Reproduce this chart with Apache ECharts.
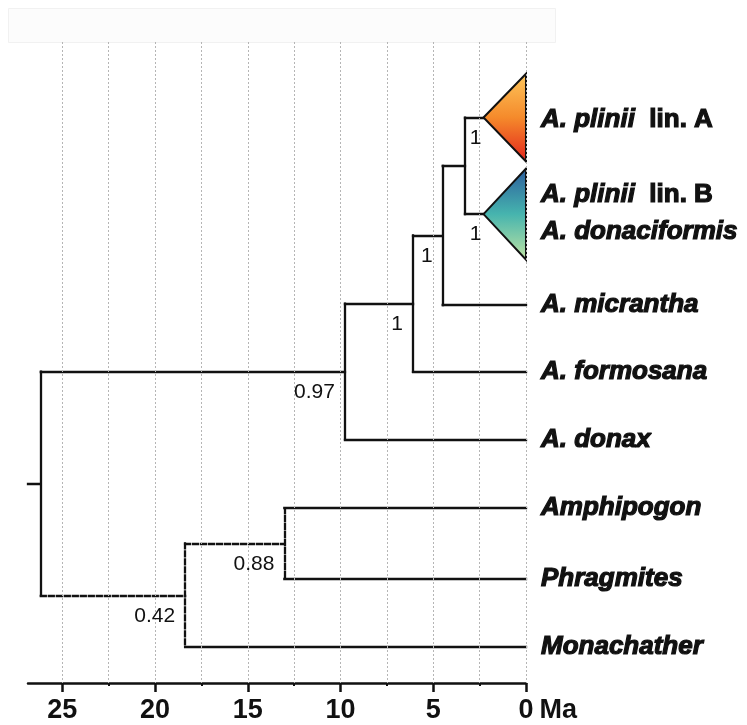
<!DOCTYPE html>
<html style="height: 100%; margin: 0;">
<head>
<meta charset="utf-8" />
<title></title>
<script src="https://cdn.jsdelivr.net/npm/echarts@6/dist/echarts.min.js"></script>
</head>
<body style="height: 100%; margin: 0; background: #fff;">
<div id="main" style="width: 747px; height: 725px;"></div>
<script type="text/javascript">
// time axis, Ma before present
var axisStart = 26.85;
var majorTicks = [0, 5, 10, 15, 20, 25];
var minorTicks = [2.5, 7.5, 12.5, 17.5, 22.5];
var gridValues = [0, 2.5, 5, 7.5, 10, 12.5, 15, 17.5, 20, 22.5, 25];

// tips: two collapsed clades first, then single taxa
var tipAges = [2.29, 2.29, 0, 0, 0, 0, 0, 0];
var tipRows = [1.12, 2.55, 3.90, 4.89, 5.89, 6.91, 7.95, 8.97];
var cladeHalf = [0.65, 0.675];
var cladeSupport = ['1', '1'];
var cladeColors = [['#fdc75c', '#f58a2b', '#e2231c'], ['#2b5c9d', '#46b4ae', '#c0e4a2']];

// internal nodes (children: t# = tip, else node id)
var nodeIds = ['AB', 'M', 'F', 'D', 'P', 'N', 'R'];
var nodeAges = [3.29, 4.49, 6.09, 9.76, 13.03, 18.38, 26.16];
var nodeKids = [['t0', 't1'], ['AB', 't2'], ['M', 't3'], ['F', 't4'], ['t5', 't6'], ['P', 't7'], ['D', 'N']];
var nodeSupport = ['', '1', '1', '0.97', '0.88', '0.42', ''];
var nodeDashed = [false, false, false, false, true, true, false];

// taxon names on the right
var nameRows = [1.16, 2.27, 2.82, 3.90, 4.89, 5.89, 6.91, 7.95, 8.97];
var nameItalic = ['A. plinii', 'A. plinii', 'A. donaciformis', 'A. micrantha', 'A. formosana', 'A. donax', 'Amphipogon', 'Phragmites', 'Monachather'];
var namePlain = ['lin. A', 'lin. B', '', '', '', '', '', '', ''];

var pos = {};
tipAges.forEach(function (a, i) { pos['t' + i] = [a, tipRows[i], false]; });
nodeIds.forEach(function (id, i) {
    var k = nodeKids[i];
    pos[id] = [nodeAges[i], (pos[k[0]][1] + pos[k[1]][1]) / 2, nodeDashed[i]];
});

var segs = [];
function seg(a, b, dashed) {
    segs.push({ coords: [a, b], lineStyle: { type: dashed ? [5, 3] : 'solid' } });
}
nodeIds.forEach(function (id, i) {
    var p = pos[id];
    seg([p[0], pos[nodeKids[i][0]][1]], [p[0], pos[nodeKids[i][1]][1]], p[2]);
    nodeKids[i].forEach(function (k) {
        var c = pos[k];
        seg([p[0], c[1]], [c[0], c[1]], c[2]);
    });
});
seg([axisStart, pos.R[1]], [pos.R[0], pos.R[1]], false);

// support values sit under the branch, just left of where it ends
var supportData = [];
cladeSupport.forEach(function (s, i) {
    supportData.push({ value: [tipAges[i], tipRows[i]], name: s, label: { position: [-2, 10] } });
});
nodeIds.forEach(function (id, i) {
    if (nodeSupport[i]) supportData.push({ value: [pos[id][0], pos[id][1]], name: nodeSupport[i] });
});

var gridBox = { left: 28, right: 221, top: 42, bottom: 42 };
var txt = { color: '#111', fontFamily: 'Liberation Sans' };

var myChart = echarts.init(document.getElementById('main'));
myChart.setOption({
    animation: false,
    backgroundColor: '#fff',
    graphic: [{
        type: 'rect', left: 8, top: 8, shape: { width: 547, height: 34 },
        style: { fill: '#fcfcfc', stroke: '#f1f1f1', lineWidth: 1 }, z: -1
    }],
    // second grid only carries the short ticks between the labelled ones
    grid: [gridBox, gridBox],
    xAxis: [{
        type: 'value', gridIndex: 0, position: 'bottom', min: 0, max: axisStart, inverse: true,
        axisLine: { show: true, onZero: false, lineStyle: { color: '#111', width: 2.5 } },
        axisTick: { show: true, customValues: majorTicks, length: 9, lineStyle: { color: '#111', width: 2.5 } },
        axisLabel: Object.assign({ customValues: majorTicks, margin: 14, fontSize: 27, fontWeight: 'bold' }, txt),
        splitLine: { show: false },
        name: 'Ma', nameLocation: 'start', nameGap: 10,
        nameTextStyle: Object.assign({ align: 'left', verticalAlign: 'top', padding: [14, 0, 0, 0], fontSize: 27, fontWeight: 'bold' }, txt)
    }, {
        type: 'value', gridIndex: 1, position: 'bottom', min: 0, max: axisStart, inverse: true,
        axisLine: { show: false, onZero: false },
        axisTick: { show: true, customValues: minorTicks, length: 3, lineStyle: { color: '#111', width: 2 } },
        axisLabel: { show: false },
        splitLine: { show: false }
    }],
    yAxis: [
        { type: 'value', gridIndex: 0, min: 0, max: 9.5, inverse: true, show: false },
        { type: 'value', gridIndex: 1, min: 0, max: 9.5, inverse: true, show: false }
    ],
    series: [{
        // dotted time grid
        type: 'scatter', data: [], silent: true, z: 1,
        markLine: {
            silent: true, symbol: 'none', label: { show: false },
            lineStyle: { color: '#b5b5b5', width: 1, type: [2, 2] },
            data: gridValues.map(function (v) { return { xAxis: v }; })
        }
    }, {
        type: 'lines', coordinateSystem: 'cartesian2d', silent: true, z: 3,
        lineStyle: { color: '#111', width: 2.3, opacity: 1, cap: 'square' },
        data: segs
    }, {
        type: 'custom', silent: true, z: 4,
        renderItem: function (params, api) {
            var i = params.dataIndex;
            var r = api.value(1);
            var c = cladeColors[i];
            return {
                type: 'polygon',
                shape: { points: [api.coord([api.value(0), r]), api.coord([0, r - cladeHalf[i]]), api.coord([0, r + cladeHalf[i]])] },
                style: {
                    fill: new echarts.graphic.LinearGradient(0, 0, 0, 1, [
                        { offset: 0, color: c[0] }, { offset: 0.5, color: c[1] }, { offset: 1, color: c[2] }]),
                    stroke: '#111', lineWidth: 2
                }
            };
        },
        data: [[tipAges[0], tipRows[0]], [tipAges[1], tipRows[1]]]
    }, {
        // support values
        type: 'scatter', symbolSize: 0, silent: true, z: 5,
        itemStyle: { opacity: 1 },
        label: Object.assign({
            show: true, position: [-10, 10], align: 'right', verticalAlign: 'top',
            formatter: '{b}', fontSize: 21
        }, txt),
        data: supportData
    }, {
        // taxon names
        type: 'scatter', symbolSize: 0, silent: true, z: 5,
        itemStyle: { opacity: 1 },
        label: {
            show: true, position: 'right', distance: 15,
            formatter: function (p) {
                var i = p.dataIndex;
                return '{i|' + nameItalic[i] + '}' + (namePlain[i] ? '{n|  ' + namePlain[i] + '}' : '');
            },
            rich: {
                i: Object.assign({ fontSize: 26, fontWeight: 'bold', fontStyle: 'italic', textBorderColor: '#111', textBorderWidth: 1.2 }, txt),
                n: Object.assign({ fontSize: 26, fontWeight: 'bold', textBorderColor: '#111', textBorderWidth: 1.2 }, txt)
            }
        },
        data: nameRows.map(function (r) { return [0, r]; })
    }]
});
window.onresize = myChart.resize;
</script>
</body>
</html>
